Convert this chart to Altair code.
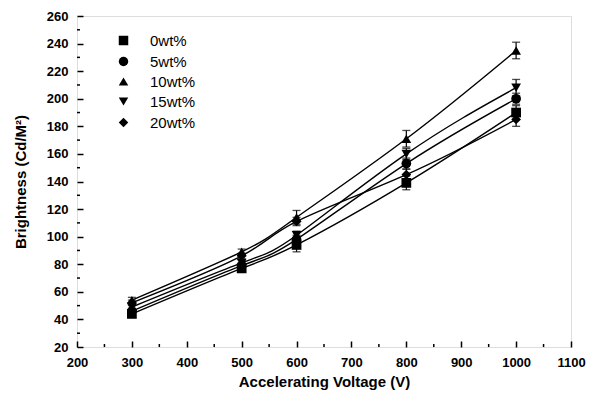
import altair as alt
import pandas as pd

voltage = [300, 500, 600, 800, 1000]
series_names = ["0wt%", "5wt%", "10wt%", "15wt%", "20wt%"]
b0 = [44, 77, 94, 139, 190]
b5 = [46, 79, 98, 153, 200]
b10 = [54, 89, 114, 171, 235]
b15 = [49, 81, 101, 160, 208]
b20 = [52, 86, 111, 145, 185]
e0 = [2, 2, 5, 5, 5]
e5 = [2, 2, 3, 4, 4]
e10 = [2, 2, 5, 6, 6]
e15 = [2, 2, 3, 4, 6]
e20 = [2, 2, 3, 4, 5]

shapes = ["square", "circle", "triangle-up", "triangle-down", "diamond"]
x_major = [200, 300, 400, 500, 600, 700, 800, 900, 1000, 1100]
x_minor = [250, 350, 450, 550, 650, 750, 850, 950, 1050]
y_major = [20, 40, 60, 80, 100, 120, 140, 160, 180, 200, 220, 240, 260]
y_minor = [30, 50, 70, 90, 110, 130, 150, 170, 190, 210, 230, 250]

rows = []
for name, vals, errs in zip(series_names, [b0, b5, b10, b15, b20], [e0, e5, e10, e15, e20]):
    for v, b, e in zip(voltage, vals, errs):
        rows.append({"series": name, "V": v, "B": b, "lo": b - e, "hi": b + e})
df = pd.DataFrame(rows)

FONT = "Liberation Sans"
W, H = 494, 331
xscale = alt.Scale(domain=[200, 1100], nice=False, zero=False)
yscale = alt.Scale(domain=[20, 260], nice=False, zero=False)

x_axis = alt.Axis(values=x_major, format="d", tickSize=6, offset=-6, labelPadding=9, domain=False,
                  grid=False, tickColor="black", tickWidth=1.5, labelFont=FONT, labelFontSize=13,
                  labelFontWeight="bold", labelColor="black", title="Accelerating Voltage (V)",
                  titleFont=FONT, titleFontSize=15, titleFontWeight="bold", titleColor="black",
                  titlePadding=5, labelFlush=False)
y_axis = alt.Axis(values=y_major, format="d", tickSize=6, offset=-6, labelPadding=9, domain=False,
                  grid=False, tickColor="black", tickWidth=1.5, labelFont=FONT, labelFontSize=13,
                  labelFontWeight="bold", labelColor="black", title="Brightness (Cd/M²)",
                  titleFont=FONT, titleFontSize=15, titleFontWeight="bold", titleColor="black",
                  titlePadding=18, labelFlush=False)


def X(field):
    return alt.X(field, type="quantitative", scale=xscale, axis=x_axis)


def Y(field):
    return alt.Y(field, type="quantitative", scale=yscale, axis=y_axis)


base = alt.Chart(df)

lines = base.mark_line(interpolate="natural", color="black", strokeWidth=1.4).encode(
    x=X("V"), y=Y("B"), detail="series:N",
)

err_rules = base.mark_rule(color="black", strokeWidth=1.2).encode(
    x=X("V"), y=Y("lo"), y2="hi:Q",
)
err_lo = base.mark_tick(color="black", size=8, thickness=1.3, orient="horizontal").encode(
    x=X("V"), y=Y("lo"),
)
err_hi = base.mark_tick(color="black", size=8, thickness=1.3, orient="horizontal").encode(
    x=X("V"), y=Y("hi"),
)

points = base.mark_point(filled=True, opacity=1, color="black", size=95).encode(
    x=X("V"), y=Y("B"),
    shape=alt.Shape("series:N", scale=alt.Scale(domain=series_names, range=shapes),
                    legend=alt.Legend(title=None, orient="none", legendX=39, legendY=17,
                                      labelFont=FONT, labelFontSize=15, labelColor="black",
                                      symbolSize=90, symbolFillColor="black", symbolStrokeColor="black",
                                      labelOffset=19, rowPadding=4, padding=0)),
)

minor_x = alt.Chart(pd.DataFrame({"xm": x_minor})).mark_rule(color="black", strokeWidth=1.5).encode(
    x=X("xm"), y=alt.value(H), y2=alt.value(H - 3),
)
minor_y = alt.Chart(pd.DataFrame({"ym": y_minor})).mark_rule(color="black", strokeWidth=1.5).encode(
    y=Y("ym"), x=alt.value(0), x2=alt.value(3),
)

chart = alt.layer(lines, err_rules, err_lo, err_hi, points, minor_x, minor_y).properties(
    width=W, height=H,
    padding={"left": 77, "top": 16, "right": 18, "bottom": 49},
    autosize=alt.AutoSizeParams(type="none"),
).configure_view(stroke="black", strokeWidth=1.5).configure(background="white")

chart.save("out.html", embed_options={"renderer": "svg", "actions": False})
